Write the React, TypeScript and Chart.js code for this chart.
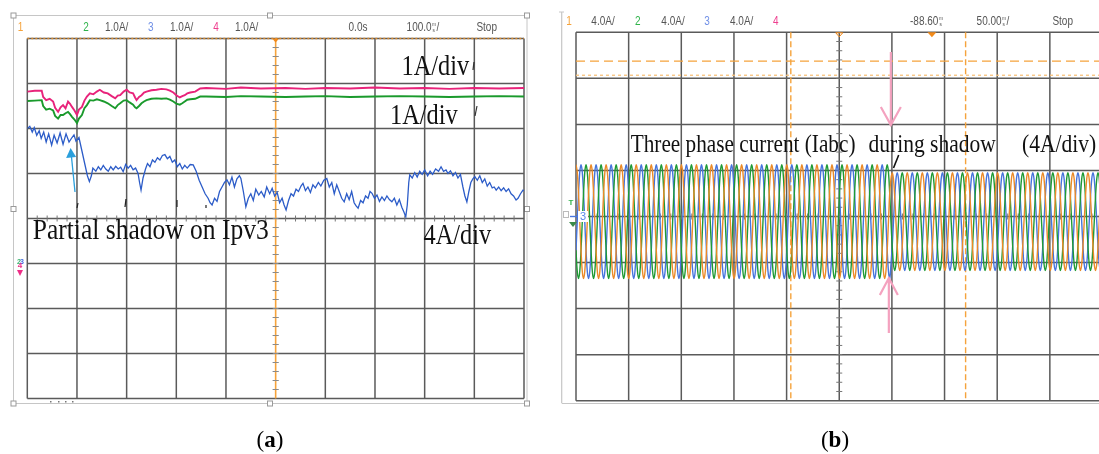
import React, { useEffect, useRef } from "react";
import { Chart, registerables } from "chart.js";
Chart.register(...registerables);

// ---------------- Panel (a): PV currents, 100 ms/div, 1 A/div ----------------
const A_X_MIN = 0;
const A_X_MAX = 1000; // ms
const A_X_STEP = 100;
const A_Y_MIN = -4;
const A_Y_MAX = 4; // A
const A_Y_STEP = 1;

// time stamps (ms) for channel 2 / 4
const IPV_T = [
  0, 15, 29, 32, 38, 45, 52, 56, 62, 67, 72, 77, 82, 86, 90, 95, 100, 104, 110, 115, 120, 126,
  133, 140, 146, 154, 162, 170, 177, 182, 187, 194, 200, 206, 213, 217, 220, 225, 230, 235, 240,
  250, 260, 270, 280, 287, 294, 300, 307, 312, 317, 322, 328, 338, 348, 360, 400, 430, 470, 520,
  560, 600, 650, 700, 750, 800, 850, 900, 950, 1000,
];
// channel 4 (pink)
const IPV4 = [
  2.82, 2.84, 2.84, 2.7, 2.63, 2.66, 2.6, 2.46, 2.37, 2.47, 2.52, 2.45, 2.6, 2.55, 2.48, 2.4, 2.3,
  2.42, 2.48, 2.62, 2.71, 2.78, 2.76, 2.82, 2.86, 2.8, 2.78, 2.72, 2.67, 2.73, 2.74, 2.82, 2.86, 2.8,
  2.78, 2.69, 2.63, 2.7, 2.74, 2.8, 2.82, 2.85, 2.86, 2.88, 2.87, 2.84, 2.8, 2.74, 2.69, 2.72, 2.74,
  2.78, 2.8, 2.82, 2.89, 2.9, 2.88, 2.91, 2.89, 2.9, 2.88, 2.9, 2.89, 2.91, 2.89, 2.9, 2.88, 2.9,
  2.89, 2.9,
];
// channel 2 (green)
const IPV2 = [
  2.61, 2.62, 2.63, 2.5, 2.42, 2.44, 2.4, 2.28, 2.22, 2.3, 2.3, 2.34, 2.37, 2.32, 2.26, 2.2, 2.12,
  2.22, 2.3, 2.45, 2.52, 2.63, 2.62, 2.65, 2.63, 2.6, 2.56, 2.5, 2.45, 2.52, 2.56, 2.62, 2.63, 2.58,
  2.53, 2.47, 2.45, 2.5, 2.56, 2.6, 2.63, 2.66, 2.67, 2.66, 2.67, 2.64, 2.6, 2.55, 2.53, 2.56, 2.6,
  2.64, 2.65, 2.66, 2.71, 2.71, 2.7, 2.72, 2.71, 2.7, 2.71, 2.72, 2.7, 2.71, 2.72, 2.71, 2.7, 2.71,
  2.72, 2.71,
];
// channel 3 (blue, Ipv3)
const IPV3_T = [
  0, 5, 10, 14, 19, 24, 28, 33, 38, 43, 49, 54, 60, 66, 72, 78, 84, 90, 94, 98, 104, 110, 116, 121,
  125, 129, 132, 138, 143, 148, 153, 158, 163, 168, 173, 178, 183, 188, 193, 198, 203, 208, 213,
  218, 223, 226, 229, 233, 238, 242, 247, 252, 257, 262, 267, 272, 277, 282, 287, 292, 297, 302,
  307, 312, 317, 322, 328, 334, 340, 346, 352, 358, 364, 368, 372, 377, 382, 387, 392, 397, 402,
  407, 412, 417, 422, 427, 430, 435, 440, 445, 450, 455, 460, 466, 471, 477, 482, 488, 493, 498,
  503, 508, 513, 517, 521, 526, 531, 536, 541, 546, 551, 555, 560, 565, 570, 575, 580, 586, 591,
  597, 603, 608, 613, 618, 623, 628, 633, 638, 643, 648, 653, 658, 662, 666, 671, 676, 681, 686,
  690, 694, 699, 704, 709, 714, 719, 724, 729, 734, 739, 744, 749, 754, 758, 762, 765, 768, 770,
  775, 780, 785, 790, 795, 800, 806, 811, 816, 822, 828, 833, 838, 843, 847, 852, 857, 862, 867,
  872, 877, 881, 885, 889, 893, 897, 901, 906, 911, 916, 921, 926, 931, 936, 940, 944, 949, 954,
  959, 964, 969, 974, 979, 984, 988, 993, 998, 1000,
];
const IPV3 = [
  2.0, 2.05, 1.92, 2.02, 1.85, 1.95, 1.78, 1.92, 1.7, 1.88, 1.63, 1.85, 1.68, 1.9, 1.65, 1.88, 1.7,
  1.8, 1.86, 1.72, 1.8, 1.5, 1.2, 0.95, 0.82, 0.95, 1.12, 1.05, 1.15, 1.08, 1.18, 1.1, 1.05, 1.15,
  1.08, 1.16, 1.1, 1.14, 1.04, 1.2, 1.12, 1.18, 1.08, 1.12, 1.0, 0.8, 0.63, 0.9, 1.1, 1.22, 1.15,
  1.3, 1.25, 1.35, 1.3, 1.4, 1.42, 1.33, 1.38, 1.25, 1.3, 1.15, 1.22, 1.1, 1.18, 1.12, 1.2, 1.19,
  1.05, 0.85, 0.7, 0.55, 0.45, 0.35, 0.3, 0.45, 0.38, 0.6, 0.7, 0.8, 0.86, 0.75, 0.92, 0.7, 0.88,
  0.95, 0.89, 0.6, 0.26, 0.45, 0.55, 0.4, 0.65, 0.52, 0.6, 0.48, 0.7, 0.55, 0.67, 0.5, 0.58, 0.35,
  0.45, 0.3, 0.19, 0.4, 0.55, 0.5, 0.65, 0.6, 0.72, 0.78, 0.62, 0.7, 0.58, 0.75, 0.68, 0.8, 0.72,
  0.85, 0.89, 0.7, 0.8, 0.55, 0.75, 0.6, 0.45, 0.37, 0.55, 0.42, 0.6, 0.35, 0.28, 0.23, 0.4, 0.35,
  0.5, 0.45, 0.6, 0.56, 0.45, 0.52, 0.38, 0.48, 0.4, 0.5, 0.42, 0.37, 0.45, 0.3, 0.42, 0.25, 0.15,
  0.04, 0.3, 0.8, 0.97, 0.9, 1.02, 0.92, 1.05, 0.98, 1.08, 0.95, 1.05, 0.98, 1.1, 1.05, 1.15, 1.05,
  1.08, 1.0, 1.06, 0.95, 1.02, 0.9, 0.98, 0.7, 0.5, 0.37, 0.6, 0.8, 0.88, 0.93, 0.85, 0.95, 0.8,
  0.88, 0.72, 0.8, 0.68, 0.7, 0.63, 0.7, 0.62, 0.68, 0.6, 0.66, 0.55, 0.5, 0.41, 0.45, 0.55, 0.63,
  0.62,
];

// ---------------- Panel (b): three-phase currents, 50 ms/div, 4 A/div ----------------
const B_X_MIN = 0;
const B_X_MAX = 500; // ms
const B_X_STEP = 50;
const B_Y_MIN = -16;
const B_Y_MAX = 16; // A
const B_Y_STEP = 4;
const CYCLE_SHAPE = [0, 0.5, 0.87, 1, 0.87, 0.5, 0, -0.5, -0.87, -1, -0.87, -0.5];
const B_PERIOD_MS = 14.3;
const B_PHASE_SHIFT = [3, 7, 11]; // orange, green, blue (in 30-degree samples)
const B_AMP_BEFORE = 4.95; // A peak before shadow
const B_AMP_AFTER = 4.25; // A peak during shadow
const B_SHADOW_MS = 299;
const B_OFFSET = -0.45; // A
const B_CURSOR_X = [204, 370]; // ms
const B_CURSOR_Y = [13.5, 12.27]; // A
const B_TRIGGER_MS = 338;

const GRID = "#5a5a5a";
const FRAME = "#c6c6c6";

function pts(t: number[], v: number[]) {
  return t.map((x, i) => ({ x, y: v[i] }));
}

function phasePts(phase: number) {
  const out: { x: number; y: number }[] = [];
  const n = Math.ceil((B_X_MAX / B_PERIOD_MS) * CYCLE_SHAPE.length) + 2;
  for (let k = 0; k < n; k++) {
    const t = (k * B_PERIOD_MS) / CYCLE_SHAPE.length;
    const amp = t < B_SHADOW_MS ? B_AMP_BEFORE : B_AMP_AFTER;
    out.push({ x: t, y: CYCLE_SHAPE[(k + B_PHASE_SHIFT[phase]) % CYCLE_SHAPE.length] * amp + B_OFFSET });
  }
  return out;
}

function line(ctx: CanvasRenderingContext2D, x1: number, y1: number, x2: number, y2: number, color: string, w: number, dash?: number[]) {
  ctx.save();
  ctx.beginPath();
  ctx.strokeStyle = color;
  ctx.lineWidth = w;
  if (dash) ctx.setLineDash(dash);
  ctx.moveTo(x1, y1);
  ctx.lineTo(x2, y2);
  ctx.stroke();
  ctx.restore();
}

function txt(ctx: CanvasRenderingContext2D, s: string, x: number, y: number, font: string, color: string, align: CanvasTextAlign = "left", sx = 1, baseline: CanvasTextBaseline = "alphabetic") {
  ctx.save();
  ctx.font = font;
  ctx.fillStyle = color;
  ctx.textAlign = align;
  ctx.textBaseline = baseline;
  ctx.translate(x, y);
  ctx.scale(sx, 1);
  ctx.fillText(s, 0, 0);
  ctx.restore();
}

const HFONT = "12.5px 'Liberation Sans', Arial, sans-serif";
const HSX = 0.8;
const SERIF = "'Liberation Serif', 'Times New Roman', serif";

function headerStacked(ctx: CanvasRenderingContext2D, pre: string, post: string, cx: number, cy: number) {
  ctx.save();
  ctx.font = HFONT;
  const w1 = ctx.measureText(pre).width * HSX;
  const w3 = ctx.measureText(post).width * HSX;
  ctx.restore();
  const wu = 5;
  const x0 = cx - (w1 + wu + w3) / 2;
  txt(ctx, pre, x0, cy, HFONT, "#555", "left", HSX, "middle");
  txt(ctx, "m", x0 + w1 + 0.5, cy - 3, "6px 'Liberation Sans', sans-serif", "#555", "left", 0.8, "middle");
  txt(ctx, "s", x0 + w1 + 1, cy + 2.5, "6px 'Liberation Sans', sans-serif", "#555", "left", 0.8, "middle");
  if (post) txt(ctx, post, x0 + w1 + wu, cy, HFONT, "#555", "left", HSX, "middle");
}

function handle(ctx: CanvasRenderingContext2D, x: number, y: number) {
  ctx.save();
  ctx.fillStyle = "#fff";
  ctx.strokeStyle = "#9a9a9a";
  ctx.lineWidth = 1;
  ctx.fillRect(x - 2.5, y - 2.5, 5, 5);
  ctx.strokeRect(x - 2.5, y - 2.5, 5, 5);
  ctx.restore();
}

function centerTicks(ctx: CanvasRenderingContext2D, chart: any, xc: number, yc: number, xStep: number, yStep: number) {
  const { x, y } = chart.scales;
  const { left, right, top, bottom } = chart.chartArea;
  const px = x.getPixelForValue(xc);
  const py = y.getPixelForValue(yc);
  ctx.save();
  ctx.strokeStyle = "#777";
  ctx.lineWidth = 1;
  for (let v = y.min; v <= y.max + 1e-9; v += yStep) {
    const p = y.getPixelForValue(v);
    if (p <= top + 1 || p >= bottom - 1) continue;
    ctx.beginPath();
    ctx.moveTo(px - 3, p);
    ctx.lineTo(px + 3, p);
    ctx.stroke();
  }
  for (let v = x.min; v <= x.max + 1e-9; v += xStep) {
    const p = x.getPixelForValue(v);
    if (p <= left + 1 || p >= right - 1) continue;
    ctx.beginPath();
    ctx.moveTo(p, py - 3);
    ctx.lineTo(p, py + 3);
    ctx.stroke();
  }
  ctx.restore();
}

const panelAPlugin = {
  id: "panelA",
  beforeDraw(chart: any) {
    const ctx: CanvasRenderingContext2D = chart.ctx;
    ctx.save();
    ctx.fillStyle = "#fff";
    ctx.fillRect(0, 0, chart.width, chart.height);
    ctx.strokeStyle = FRAME;
    ctx.lineWidth = 1;
    ctx.strokeRect(13.5, 15.5, 513.5, 388);
    ctx.restore();
    [[13.5, 15.5], [270, 15.5], [527, 15.5], [13.5, 209], [527, 209], [13.5, 403.5], [270, 403.5], [527, 403.5]].forEach(([a, b]) => handle(ctx, a, b));
    ctx.save();
    ctx.fillStyle = "#777";
    [50, 58, 65, 72].forEach((d) => ctx.fillRect(d, 401, 1.5, 1.5));
    ctx.restore();
  },
  beforeDatasetsDraw(chart: any) {
    const ctx: CanvasRenderingContext2D = chart.ctx;
    const { x, y } = chart.scales;
    const { left, right, top, bottom } = chart.chartArea;
    const xc = (A_X_MIN + A_X_MAX) / 2;
    for (let v = A_X_MIN; v <= A_X_MAX; v += A_X_STEP) {
      if (v === xc) continue;
      const p = x.getPixelForValue(v);
      line(ctx, p, top, p, bottom, GRID, 1.5);
    }
    for (let v = A_Y_MIN; v <= A_Y_MAX; v += A_Y_STEP) {
      const p = y.getPixelForValue(v);
      line(ctx, left, p, right, p, GRID, 1.5);
    }
    line(ctx, left, top, right, top, "#d88a30", 1.5, [2, 2]);
    centerTicks(ctx, chart, xc, 0, 20, 0.2);
    const pc = x.getPixelForValue(xc);
    line(ctx, pc, top, pc, bottom, "#f6a33a", 1.6);
    ctx.save();
    ctx.strokeStyle = "#8a8a8a";
    for (let v = A_Y_MIN; v <= A_Y_MAX; v += 0.2) {
      const p = y.getPixelForValue(v);
      if (p <= top + 1 || p >= bottom - 1) continue;
      ctx.beginPath();
      ctx.moveTo(pc - 2.5, p);
      ctx.lineTo(pc + 2.5, p);
      ctx.stroke();
    }
    ctx.restore();
  },
  afterDatasetsDraw(chart: any) {
    const ctx: CanvasRenderingContext2D = chart.ctx;
    const { x } = chart.scales;
    const { top } = chart.chartArea;
    const pc = x.getPixelForValue((A_X_MIN + A_X_MAX) / 2);
    ctx.save();
    ctx.fillStyle = "#f28a1a";
    ctx.beginPath();
    ctx.moveTo(pc - 3.5, top);
    ctx.lineTo(pc + 3.5, top);
    ctx.lineTo(pc, top + 4);
    ctx.closePath();
    ctx.fill();
    ctx.restore();

    const hy = 27.5;
    txt(ctx, "1", 20.5, hy, HFONT, "#f5a23a", "center", HSX, "middle");
    txt(ctx, "2", 86, hy, HFONT, "#2fb34a", "center", HSX, "middle");
    txt(ctx, "1.0A/", 116.7, hy, HFONT, "#555", "center", HSX, "middle");
    txt(ctx, "3", 150.7, hy, HFONT, "#6f8fe6", "center", HSX, "middle");
    txt(ctx, "1.0A/", 181.7, hy, HFONT, "#555", "center", HSX, "middle");
    txt(ctx, "4", 216, hy, HFONT, "#ee3f8f", "center", HSX, "middle");
    txt(ctx, "1.0A/", 246.7, hy, HFONT, "#555", "center", HSX, "middle");
    txt(ctx, "0.0s", 358, hy, HFONT, "#555", "center", HSX, "middle");
    headerStacked(ctx, "100.0", "/", 423, hy);
    txt(ctx, "Stop", 486.7, hy, HFONT, "#555", "center", HSX, "middle");

    const big = "29px " + SERIF;
    txt(ctx, "1A/div", 401.5, 75, big, "#111", "left", 0.84);
    txt(ctx, "1A/div", 390, 124, big, "#111", "left", 0.84);
    txt(ctx, "Partial shadow on Ipv3", 32.7, 239.3, big, "#111", "left", 0.88);
    txt(ctx, "4A/div", 423.5, 244, big, "#111", "left", 0.84);
    line(ctx, 474, 62, 473, 70, "#333", 1.2);
    line(ctx, 477, 106, 475, 116, "#333", 1.2);
    line(ctx, 78, 203, 77, 208, "#222", 1.2);
    line(ctx, 126, 199, 125, 207, "#222", 1.2);
    line(ctx, 177, 200, 177, 207, "#222", 1.2);
    line(ctx, 206, 205, 206, 208, "#222", 1.2);

    const tx = 70.6, ty = 148, bx = 75, by = 192;
    line(ctx, bx, by, tx + 0.9, ty + 9, "#2a9fdc", 1.3);
    ctx.save();
    ctx.fillStyle = "#2a9fdc";
    ctx.beginPath();
    ctx.moveTo(tx, ty);
    ctx.lineTo(tx - 4.5, ty + 10);
    ctx.lineTo(tx + 5.5, ty + 9);
    ctx.closePath();
    ctx.fill();
    ctx.restore();

    txt(ctx, "2", 19, 262, "bold 7px sans-serif", "#3cb371", "center", 1, "middle");
    txt(ctx, "3", 22, 262, "bold 7px sans-serif", "#4169e1", "center", 1, "middle");
    txt(ctx, "4", 20, 266, "bold 8px sans-serif", "#ee2d86", "center", 1, "middle");
    ctx.save();
    ctx.fillStyle = "#ee2d86";
    ctx.beginPath();
    ctx.moveTo(17, 270);
    ctx.lineTo(23, 270);
    ctx.lineTo(20, 276);
    ctx.closePath();
    ctx.fill();
    ctx.restore();

    const capY = 447;
    ctx.save();
    ctx.font = "23px " + SERIF;
    const wp = ctx.measureText("(").width;
    ctx.font = "bold 23px " + SERIF;
    const wa = ctx.measureText("a").width;
    ctx.restore();
    const x0 = 270 - (wp * 2 + wa) / 2;
    txt(ctx, "(", x0, capY, "23px " + SERIF, "#000");
    txt(ctx, "a", x0 + wp, capY, "bold 23px " + SERIF, "#000");
    txt(ctx, ")", x0 + wp + wa, capY, "23px " + SERIF, "#000");
  },
};

const OX = 550;

const panelBPlugin = {
  id: "panelB",
  beforeDraw(chart: any) {
    const ctx: CanvasRenderingContext2D = chart.ctx;
    ctx.save();
    ctx.fillStyle = "#fff";
    ctx.fillRect(0, 0, chart.width, chart.height);
    ctx.restore();
    line(ctx, 561.7 - OX, 12, 561.7 - OX, 403, FRAME, 1.2);
    line(ctx, 559 - OX, 12, 564 - OX, 12, FRAME, 1);
    line(ctx, 561.7 - OX, 403.5, chart.width, 403.5, FRAME, 1.2);
  },
  beforeDatasetsDraw(chart: any) {
    const ctx: CanvasRenderingContext2D = chart.ctx;
    const { x, y } = chart.scales;
    const { left, right, top, bottom } = chart.chartArea;
    for (let v = B_X_MIN; v <= B_X_MAX; v += B_X_STEP) {
      const p = x.getPixelForValue(v);
      line(ctx, p, top, p, bottom, GRID, 1.5);
    }
    for (let v = B_Y_MIN; v <= B_Y_MAX; v += B_Y_STEP) {
      const p = y.getPixelForValue(v);
      line(ctx, left, p, right, p, GRID, 1.5);
    }
    centerTicks(ctx, chart, (B_X_MIN + B_X_MAX) / 2, 0, 10, 0.8);
    const cy0 = y.getPixelForValue(B_CURSOR_Y[0]);
    const cy1 = y.getPixelForValue(B_CURSOR_Y[1]);
    line(ctx, left, cy0, right, cy0, "#f5a33c", 1.4, [9, 5]);
    line(ctx, left, cy1, right, cy1, "#f8c27c", 1.3, [3, 3]);
    B_CURSOR_X.forEach((v) => {
      const p = x.getPixelForValue(v);
      line(ctx, p, top, p, bottom, "#f5a33c", 1.4, [6, 3]);
    });
  },
  afterDatasetsDraw(chart: any) {
    const ctx: CanvasRenderingContext2D = chart.ctx;
    const { x } = chart.scales;
    const { top } = chart.chartArea;
    const pt = x.getPixelForValue(B_TRIGGER_MS);
    ctx.save();
    ctx.fillStyle = "#f28a1a";
    ctx.beginPath();
    ctx.moveTo(pt - 4.5, top);
    ctx.lineTo(pt + 4.5, top);
    ctx.lineTo(pt, top + 5);
    ctx.closePath();
    ctx.fill();
    const pc = x.getPixelForValue((B_X_MIN + B_X_MAX) / 2);
    ctx.strokeStyle = "#f28a1a";
    ctx.lineWidth = 1;
    ctx.beginPath();
    ctx.moveTo(pc - 3.5, top + 0.5);
    ctx.lineTo(pc + 3.5, top + 0.5);
    ctx.lineTo(pc, top + 4.5);
    ctx.closePath();
    ctx.stroke();
    ctx.restore();

    const hy = 21.7;
    const h = (s: string, px: number, c: string) => txt(ctx, s, px - OX, hy, HFONT, c, "center", HSX, "middle");
    h("1", 569, "#f5a23a");
    h("4.0A/", 603, "#555");
    h("2", 637.7, "#2fb34a");
    h("4.0A/", 673, "#555");
    h("3", 707, "#6f8fe6");
    h("4.0A/", 741.7, "#555");
    h("4", 775.7, "#ee3f8f");
    headerStacked(ctx, "-88.60", "", 926.7 - OX, hy);
    headerStacked(ctx, "50.00", "/", 993 - OX, hy);
    h("Stop", 1062.7, "#555");

    const f = "25px " + SERIF;
    txt(ctx, "Three phase current (Iabc)", 630.7 - OX, 151.5, f, "#111", "left", 0.85);
    txt(ctx, "during shadow", 868.5 - OX, 151.5, f, "#111", "left", 0.86);
    txt(ctx, "(4A/div)", 1022 - OX, 151.5, f, "#111", "left", 0.86);
    line(ctx, 898.7 - OX, 155, 893.5 - OX, 168, "#111", 1.6);

    const ps = x.getPixelForValue(B_SHADOW_MS);
    const pink = "#f4a2bf";
    line(ctx, ps, 52, ps, 125, pink, 2.2);
    ctx.save();
    ctx.strokeStyle = pink;
    ctx.lineWidth = 2.2;
    ctx.beginPath();
    ctx.moveTo(ps - 10, 107);
    ctx.lineTo(ps, 125);
    ctx.lineTo(ps + 10, 107);
    ctx.stroke();
    ctx.beginPath();
    ctx.moveTo(ps - 2, 333);
    ctx.lineTo(ps - 2, 279);
    ctx.moveTo(ps - 11, 295);
    ctx.lineTo(ps - 2, 278);
    ctx.lineTo(ps + 7, 295);
    ctx.stroke();
    ctx.restore();

    txt(ctx, "T", 571 - OX, 203, "bold 8px 'Liberation Sans', sans-serif", "#2fb34a", "center", 1, "middle");
    ctx.save();
    ctx.fillStyle = "#fff";
    ctx.fillRect(578 - OX, 211, 10, 11);
    ctx.strokeStyle = "#bbb";
    ctx.strokeRect(563.5 - OX, 211.5, 5, 6);
    ctx.fillStyle = "#3a8a4a";
    ctx.beginPath();
    ctx.moveTo(569 - OX, 222);
    ctx.lineTo(577 - OX, 222);
    ctx.lineTo(573 - OX, 227);
    ctx.closePath();
    ctx.fill();
    ctx.restore();
    line(ctx, 570 - OX, 216.5, 578 - OX, 216.5, "#4a78e0", 1.4);
    txt(ctx, "3", 583 - OX, 217, "11px 'Liberation Sans', sans-serif", "#5a86ea", "center", 1, "middle");

    const capY = 447;
    ctx.save();
    ctx.font = "23px " + SERIF;
    const wp = ctx.measureText("(").width;
    ctx.font = "bold 23px " + SERIF;
    const wb = ctx.measureText("b").width;
    ctx.restore();
    const x0 = 835 - OX - (wp * 2 + wb) / 2;
    txt(ctx, "(", x0, capY, "23px " + SERIF, "#000");
    txt(ctx, "b", x0 + wp, capY, "bold 23px " + SERIF, "#000");
    txt(ctx, ")", x0 + wp + wb, capY, "23px " + SERIF, "#000");
  },
};

export default function App() {
  const refA = useRef<HTMLCanvasElement>(null);
  const refB = useRef<HTMLCanvasElement>(null);

  useEffect(() => {
    const chartA = new Chart(refA.current as HTMLCanvasElement, {
      type: "line",
      data: {
        datasets: [
          { data: pts(IPV_T, IPV4), borderColor: "#e8237a", borderWidth: 1.9, pointRadius: 0, tension: 0 },
          { data: pts(IPV_T, IPV2), borderColor: "#1a9a2c", borderWidth: 1.9, pointRadius: 0, tension: 0 },
          { data: pts(IPV3_T, IPV3), borderColor: "#2c5cc8", borderWidth: 1.3, pointRadius: 0, tension: 0 },
        ],
      },
      options: {
        animation: false,
        responsive: false,
        maintainAspectRatio: false,
        events: [],
        layout: { padding: { left: 27.3, top: 38.5, right: 550 - 524, bottom: 454 - 398.5 } },
        scales: {
          x: { type: "linear", min: A_X_MIN, max: A_X_MAX, display: false },
          y: { type: "linear", min: A_Y_MIN, max: A_Y_MAX, display: false },
        },
        plugins: { legend: { display: false }, tooltip: { enabled: false } },
      },
      plugins: [panelAPlugin],
    } as any);

    const chartB = new Chart(refB.current as HTMLCanvasElement, {
      type: "line",
      data: {
        datasets: [
          { data: phasePts(0), borderColor: "#ea8a28", borderWidth: 1.4, pointRadius: 0, tension: 0.4 },
          { data: phasePts(1), borderColor: "#1f9a35", borderWidth: 1.4, pointRadius: 0, tension: 0.4 },
          { data: phasePts(2), borderColor: "#4674dc", borderWidth: 1.4, pointRadius: 0, tension: 0.4 },
        ],
      },
      options: {
        animation: false,
        responsive: false,
        maintainAspectRatio: false,
        events: [],
        layout: { padding: { left: 576 - OX, top: 32.3, right: 570 - (1102.5 - OX), bottom: 454 - 400.7 } },
        scales: {
          x: { type: "linear", min: B_X_MIN, max: B_X_MAX, display: false },
          y: { type: "linear", min: B_Y_MIN, max: B_Y_MAX, display: false },
        },
        plugins: { legend: { display: false }, tooltip: { enabled: false } },
      },
      plugins: [panelBPlugin],
    } as any);

    return () => {
      chartA.destroy();
      chartB.destroy();
    };
  }, []);

  return (
    <div style={{ position: "fixed", left: 0, top: 0, width: 1099, height: 454, overflow: "hidden", background: "#fff" }}>
      <canvas ref={refA} width={550} height={454} style={{ position: "absolute", left: 0, top: 0, width: 550, height: 454 }} />
      <canvas ref={refB} width={570} height={454} style={{ position: "absolute", left: OX, top: 0, width: 570, height: 454 }} />
    </div>
  );
}
